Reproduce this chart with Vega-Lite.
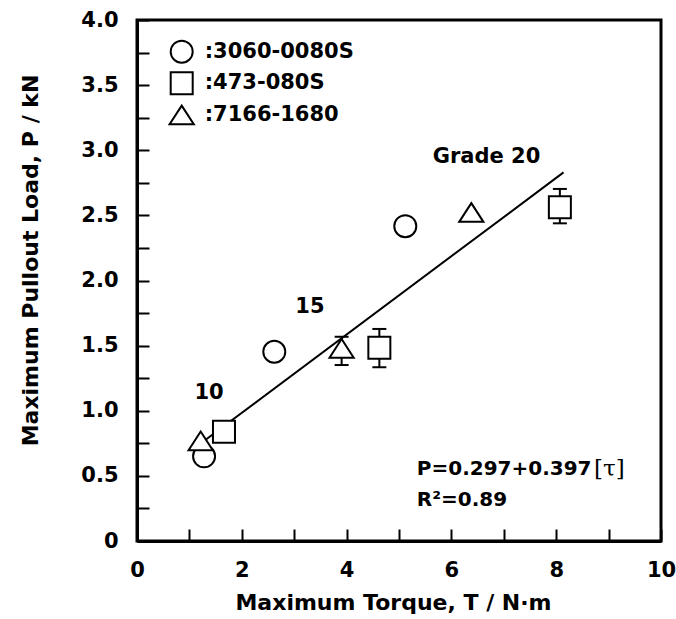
{
  "$schema": "https://vega.github.io/schema/vega-lite/v6.json",
  "width": 524,
  "height": 521,
  "autosize": {"type": "none"},
  "padding": {"left": 137, "top": 20, "right": 15, "bottom": 78},
  "background": "white",
  "config": {
    "view": {"stroke": "black", "strokeWidth": 3},
    "font": "DejaVu Sans",
    "axis": {
      "grid": false,
      "domainColor": "black",
      "domainWidth": 3,
      "tickColor": "black",
      "tickWidth": 2,
      "tickSize": -12,
      "labelFont": "DejaVu Sans",
      "labelFontWeight": "bold",
      "labelFontSize": 21,
      "labelColor": "black",
      "titleFont": "DejaVu Sans",
      "titleFontWeight": "bold",
      "titleFontSize": 22,
      "titleColor": "black",
      "labelOverlap": false,
      "labelFlush": false
    }
  },
  "datasets": {
    "points": [
      {"series": "3060-0080S", "T": 1.28, "P": 0.65},
      {"series": "3060-0080S", "T": 2.62, "P": 1.453},
      {"series": "3060-0080S", "T": 5.12, "P": 2.417},
      {"series": "473-080S", "T": 1.66, "P": 0.839},
      {"series": "473-080S", "T": 4.625, "P": 1.483},
      {"series": "473-080S", "T": 8.07, "P": 2.563},
      {"series": "7166-1680", "T": 1.215, "P": 0.769},
      {"series": "7166-1680", "T": 3.905, "P": 1.479},
      {"series": "7166-1680", "T": 6.38, "P": 2.522}
    ],
    "legend": [
      {"series": "3060-0080S", "T": 0.853, "P": 3.757, "label": ":3060-0080S"},
      {"series": "473-080S", "T": 0.853, "P": 3.514, "label": ":473-080S"},
      {"series": "7166-1680", "T": 0.853, "P": 3.271, "label": ":7166-1680"}
    ],
    "errs": [
      {"series": "473-080S", "T": 4.625, "Plo": 1.334, "Phi": 1.628},
      {"series": "473-080S", "T": 8.07, "Plo": 2.439, "Phi": 2.703},
      {"series": "7166-1680", "T": 3.905, "Plo": 1.351, "Phi": 1.568}
    ],
    "fit": [
      {"T": 1.22, "P": 0.75},
      {"T": 8.14, "P": 2.83}
    ],
    "notes": [
      {"T": 6.67, "P": 2.95, "label": "Grade 20"},
      {"T": 3.30, "P": 1.793, "label": "15"},
      {"T": 1.375, "P": 1.14, "label": "10"}
    ],
    "eq": [
      {"T": 5.34, "P": 0.553, "label": "P=0.297+0.397"},
      {"T": 5.34, "P": 0.315, "label": "R²=0.89"}
    ],
    "eq2": [
      {"T": 8.72, "P": 0.553, "label": "[τ]"}
    ]
  },
  "encoding": {
    "x": {
      "field": "T",
      "type": "quantitative",
      "scale": {"domain": [0, 10], "nice": false, "zero": false},
      "axis": {
        "values": [0, 1, 2, 3, 4, 5, 6, 7, 8, 9, 10],
        "labelExpr": "datum.value % 2 == 0 ? datum.label : ''",
        "labelPadding": 30,
        "titlePadding": 12,
        "titleX": 256,
        "title": "Maximum Torque, T / N·m"
      }
    },
    "y": {
      "field": "P",
      "type": "quantitative",
      "scale": {"domain": [0, 4], "nice": false, "zero": false},
      "axis": {
        "values": [0, 0.25, 0.5, 0.75, 1, 1.25, 1.5, 1.75, 2, 2.25, 2.5, 2.75, 3, 3.25, 3.5, 3.75, 4],
        "labelExpr": "datum.value % 0.5 == 0 ? (datum.value == 0 ? '0' : format(datum.value, '.1f')) : ''",
        "labelPadding": 31,
        "titlePadding": 38,
        "titleY": 240,
        "title": "Maximum Pullout Load, P / kN"
      }
    }
  },
  "layer": [
    {
      "data": {"name": "fit"},
      "mark": {"type": "line", "color": "black", "strokeWidth": 2},
      "encoding": {}
    },
    {
      "data": {"name": "errs"},
      "mark": {"type": "rule", "color": "black", "strokeWidth": 2},
      "encoding": {
        "y": {"field": "Plo", "type": "quantitative", "title": "Maximum Pullout Load, P / kN"},
        "y2": {"field": "Phi"}
      }
    },
    {
      "data": {"name": "errs"},
      "mark": {"type": "tick", "color": "black", "orient": "horizontal", "size": 14, "thickness": 2, "opacity": 1},
      "encoding": {
        "y": {"field": "Plo", "type": "quantitative", "title": "Maximum Pullout Load, P / kN"}
      }
    },
    {
      "data": {"name": "errs"},
      "mark": {"type": "tick", "color": "black", "orient": "horizontal", "size": 14, "thickness": 2, "opacity": 1},
      "encoding": {
        "y": {"field": "Phi", "type": "quantitative", "title": "Maximum Pullout Load, P / kN"}
      }
    },
    {
      "data": {"name": "points"},
      "mark": {"type": "point", "filled": false, "fill": "white", "fillOpacity": 1, "color": "black", "stroke": "black", "strokeWidth": 2, "size": 484, "opacity": 1},
      "encoding": {
        "shape": {
          "field": "series",
          "type": "nominal",
          "scale": {
            "domain": ["3060-0080S", "473-080S", "7166-1680"],
            "range": ["circle", "square", "M0,-0.85L1.1,0.85L-1.1,0.85Z"]
          },
          "legend": null
        }
      }
    },
    {
      "data": {"name": "legend"},
      "mark": {"type": "point", "filled": false, "fill": "white", "fillOpacity": 1, "color": "black", "stroke": "black", "strokeWidth": 2, "size": 484, "opacity": 1},
      "encoding": {
        "shape": {"field": "series", "type": "nominal", "legend": null}
      }
    },
    {
      "data": {"name": "legend"},
      "mark": {"type": "text", "font": "DejaVu Sans", "fontWeight": "bold", "fontSize": 21, "align": "left", "baseline": "middle", "color": "black"},
      "encoding": {
        "xOffset": {"value": 23},
        "text": {"field": "label"}
      }
    },
    {
      "data": {"name": "notes"},
      "mark": {"type": "text", "font": "DejaVu Sans", "fontWeight": "bold", "fontSize": 21, "align": "center", "baseline": "middle", "color": "black"},
      "encoding": {"text": {"field": "label"}}
    },
    {
      "data": {"name": "eq"},
      "mark": {"type": "text", "font": "DejaVu Sans", "fontWeight": "bold", "fontSize": 20, "align": "left", "baseline": "middle", "color": "black"},
      "encoding": {"text": {"field": "label"}}
    },
    {
      "data": {"name": "eq2"},
      "mark": {"type": "text", "font": "DejaVu Serif", "fontWeight": "normal", "fontSize": 23, "align": "left", "baseline": "middle", "color": "black"},
      "encoding": {"text": {"field": "label"}}
    }
  ]
}
